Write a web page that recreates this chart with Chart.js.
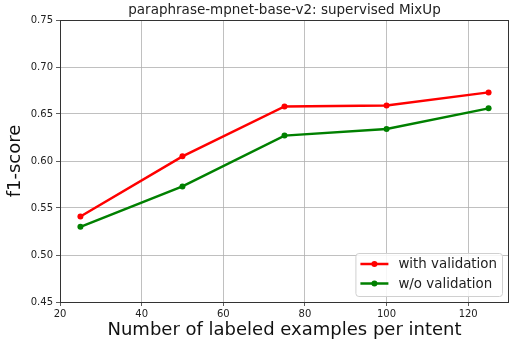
<!DOCTYPE html>
<html>
<head>
<meta charset="utf-8">
<script src="https://cdn.jsdelivr.net/npm/chart.js@4.4.1/dist/chart.umd.min.js"></script>
<style>
  html, body { margin: 0; padding: 0; background: #fff; overflow: hidden; }
  canvas { display: block; }
</style>
</head>
<body>
<canvas id="chart" width="512" height="342"></canvas>
<script>
// Datos
const examples = [25, 50, 75, 100, 125];
const withValidation = [0.541, 0.605, 0.658, 0.659, 0.673];
const withoutValidation = [0.530, 0.573, 0.627, 0.634, 0.656];
const seriesLabels = ["with validation", "w/o validation"];
const titleText = "paraphrase-mpnet-base-v2: supervised MixUp";

const FONT = "'DejaVu Sans', sans-serif";
const toXY = (ys) => examples.map((x, i) => ({ x, y: ys[i] }));

// Título centrado sobre el área de trazado + marco superior/derecho
const frame = {
  id: "frame",
  afterDraw(chart) {
    const { ctx, chartArea: a } = chart;
    ctx.save();
    ctx.strokeStyle = "#333";
    ctx.lineWidth = 1;
    ctx.beginPath();
    ctx.moveTo(a.left, a.top + 0.5);
    ctx.lineTo(a.right, a.top + 0.5);
    ctx.moveTo(a.right - 0.5, a.top);
    ctx.lineTo(a.right - 0.5, a.bottom);
    ctx.stroke();
    ctx.font = "13.5px " + FONT;
    ctx.fillStyle = "#222";
    ctx.textAlign = "center";
    ctx.textBaseline = "middle";
    ctx.fillText(titleText, (a.left + a.right) / 2, a.top - 9.5);
    ctx.restore();
  },
};

// Leyenda dentro del área, abajo a la derecha
const boxLegend = {
  id: "boxLegend",
  afterDraw(chart) {
    const { ctx, chartArea: a } = chart;
    const sets = chart.data.datasets;
    ctx.save();
    ctx.font = "13.4px " + FONT;
    const textW = Math.max(...sets.map((d) => ctx.measureText(d.label).width));
    const w = 43 + textW + 5, h = 43;
    const x = a.right - 7 - w, y = a.bottom - 6 - h;
    ctx.fillStyle = "rgba(255,255,255,0.85)";
    ctx.strokeStyle = "#d0d0d0";
    ctx.lineWidth = 1;
    ctx.beginPath();
    ctx.roundRect(x + 0.5, y + 0.5, w, h, 3);
    ctx.fill();
    ctx.stroke();
    sets.forEach((d, i) => {
      const cy = y + 11 + i * 19.5;
      ctx.strokeStyle = d.borderColor;
      ctx.lineWidth = 2.5;
      ctx.beginPath();
      ctx.moveTo(x + 5, cy);
      ctx.lineTo(x + 33, cy);
      ctx.stroke();
      ctx.fillStyle = d.borderColor;
      ctx.beginPath();
      ctx.arc(x + 19, cy, 3, 0, Math.PI * 2);
      ctx.fill();
      ctx.fillStyle = "#222";
      ctx.textBaseline = "middle";
      ctx.fillText(d.label, x + 43, cy + 1);
    });
    ctx.restore();
  },
};

new Chart(document.getElementById("chart"), {
  type: "line",
  data: {
    datasets: [
      { label: seriesLabels[0], data: toXY(withValidation), borderColor: "#ff0000", backgroundColor: "#ff0000" },
      { label: seriesLabels[1], data: toXY(withoutValidation), borderColor: "#008000", backgroundColor: "#008000" },
    ],
  },
  options: {
    responsive: false,
    animation: false,
    layout: { padding: { top: 20, right: 1, bottom: 0, left: 0 } },
    elements: {
      line: { borderWidth: 2.5, tension: 0 },
      point: { radius: 3, hoverRadius: 3, borderWidth: 0 },
    },
    plugins: {
      legend: { display: false },
      tooltip: { enabled: false },
      title: { display: false },
    },
    scales: {
      x: {
        type: "linear",
        min: 20,
        max: 130,
        afterFit: (s) => { s.height = 40; },
        ticks: { stepSize: 20, includeBounds: false, color: "#222", padding: 2, font: { family: FONT, size: 10 } },
        grid: { color: "#b0b0b0", lineWidth: 0.8, tickColor: "#333", tickLength: 4 },
        border: { color: "#333", width: 1 },
        title: {
          display: true,
          text: "Number of labeled examples per intent",
          color: "#111",
          font: { family: FONT, size: 18 },
          padding: { top: 0, bottom: 1 },
        },
      },
      y: {
        min: 0.45,
        max: 0.75,
        afterFit: (s) => { s.width = 60; },
        ticks: {
          stepSize: 0.05,
          color: "#222",
          padding: 3,
          font: { family: FONT, size: 10 },
          callback: (v) => v.toFixed(2),
        },
        grid: { color: "#b0b0b0", lineWidth: 0.8, tickColor: "#333", tickLength: 4 },
        border: { color: "#333", width: 1 },
        title: {
          display: true,
          text: "f1-score",
          color: "#111",
          font: { family: FONT, size: 18 },
          padding: { top: 5, bottom: 0 },
        },
      },
    },
  },
  plugins: [frame, boxLegend],
});
</script>
</body>
</html>
